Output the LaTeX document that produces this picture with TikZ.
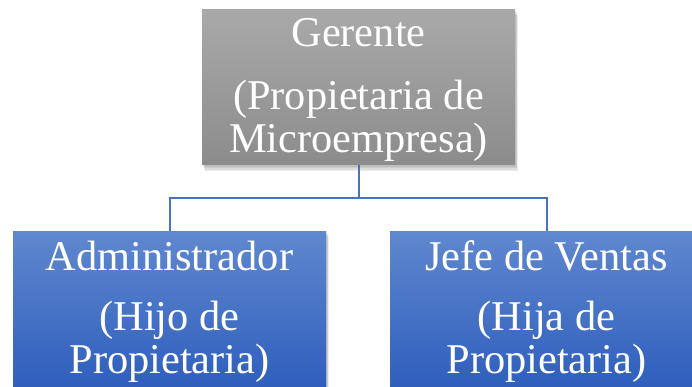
\documentclass[tikz,border=0pt]{standalone}
\usepackage{fontspec}
\setmainfont{Liberation Serif}
\definecolor{gtop}{HTML}{A9A9A9}
\definecolor{gbot}{HTML}{8C8C8C}
\definecolor{btop}{HTML}{6088CF}
\definecolor{bbot}{HTML}{2F5FBD}
\definecolor{conn}{HTML}{4472C4}
\begin{document}
\begin{tikzpicture}[x=1pt,y=-1pt,
  boxg/.style={rectangle, minimum width=313pt, minimum height=155pt, inner sep=0pt, top color=gtop, bottom color=gbot, draw=none},
  boxb/.style={rectangle, minimum width=313pt, minimum height=155pt, inner sep=0pt, top color=btop, bottom color=bbot, draw=none},
  shad/.style={fill=black, opacity=0.07, draw=none},
  lbl/.style={anchor=base, inner sep=0pt, text=white, font=\fontsize{42.4}{44}\selectfont},
  link/.style={draw=conn, line width=2pt}]
\useasboundingbox (0,0) rectangle (692,387);
\clip (0,0) rectangle (692,387);
% shadows
\foreach \cx/\cy in {358.5/87.5,169.5/308.5,546.5/308.5}{
  \foreach \d in {1,2,3,4}{
    \fill[shad] (\cx-156.5+\d*0.8,\cy-77.5+\d*1.2) rectangle (\cx+156.5+\d*0.8,\cy+77.5+\d*1.6);
  }
}
\node[boxg] (top) at (358.5,87.5) {};
\node[boxb] (left) at (169.5,308.5) {};
\node[boxb] (right) at (546.5,308.5) {};
\draw[link] (top.south) -- ++(0,33) coordinate (mid) -| (left.north);
\draw[link] (mid) -| (right.north);
\node[lbl] (t1) at (358.5,47) {Gerente};
\node[lbl] (t2) at (358.5,110) {(Propietaria de};
\node[lbl] (t3) at (358.5,153) {Microempresa)};
\node[lbl] (l1) at (169.5,270) {Administrador};
\node[lbl] (l2) at (169.5,330) {(Hijo de};
\node[lbl] (l3) at (169.5,373) {Propietaria)};
\node[lbl] (r1) at (546.5,270) {Jefe de Ventas};
\node[lbl] (r2) at (546.5,330) {(Hija de};
\node[lbl] (r3) at (546.5,373) {Propietaria)};
\end{tikzpicture}
\end{document}
